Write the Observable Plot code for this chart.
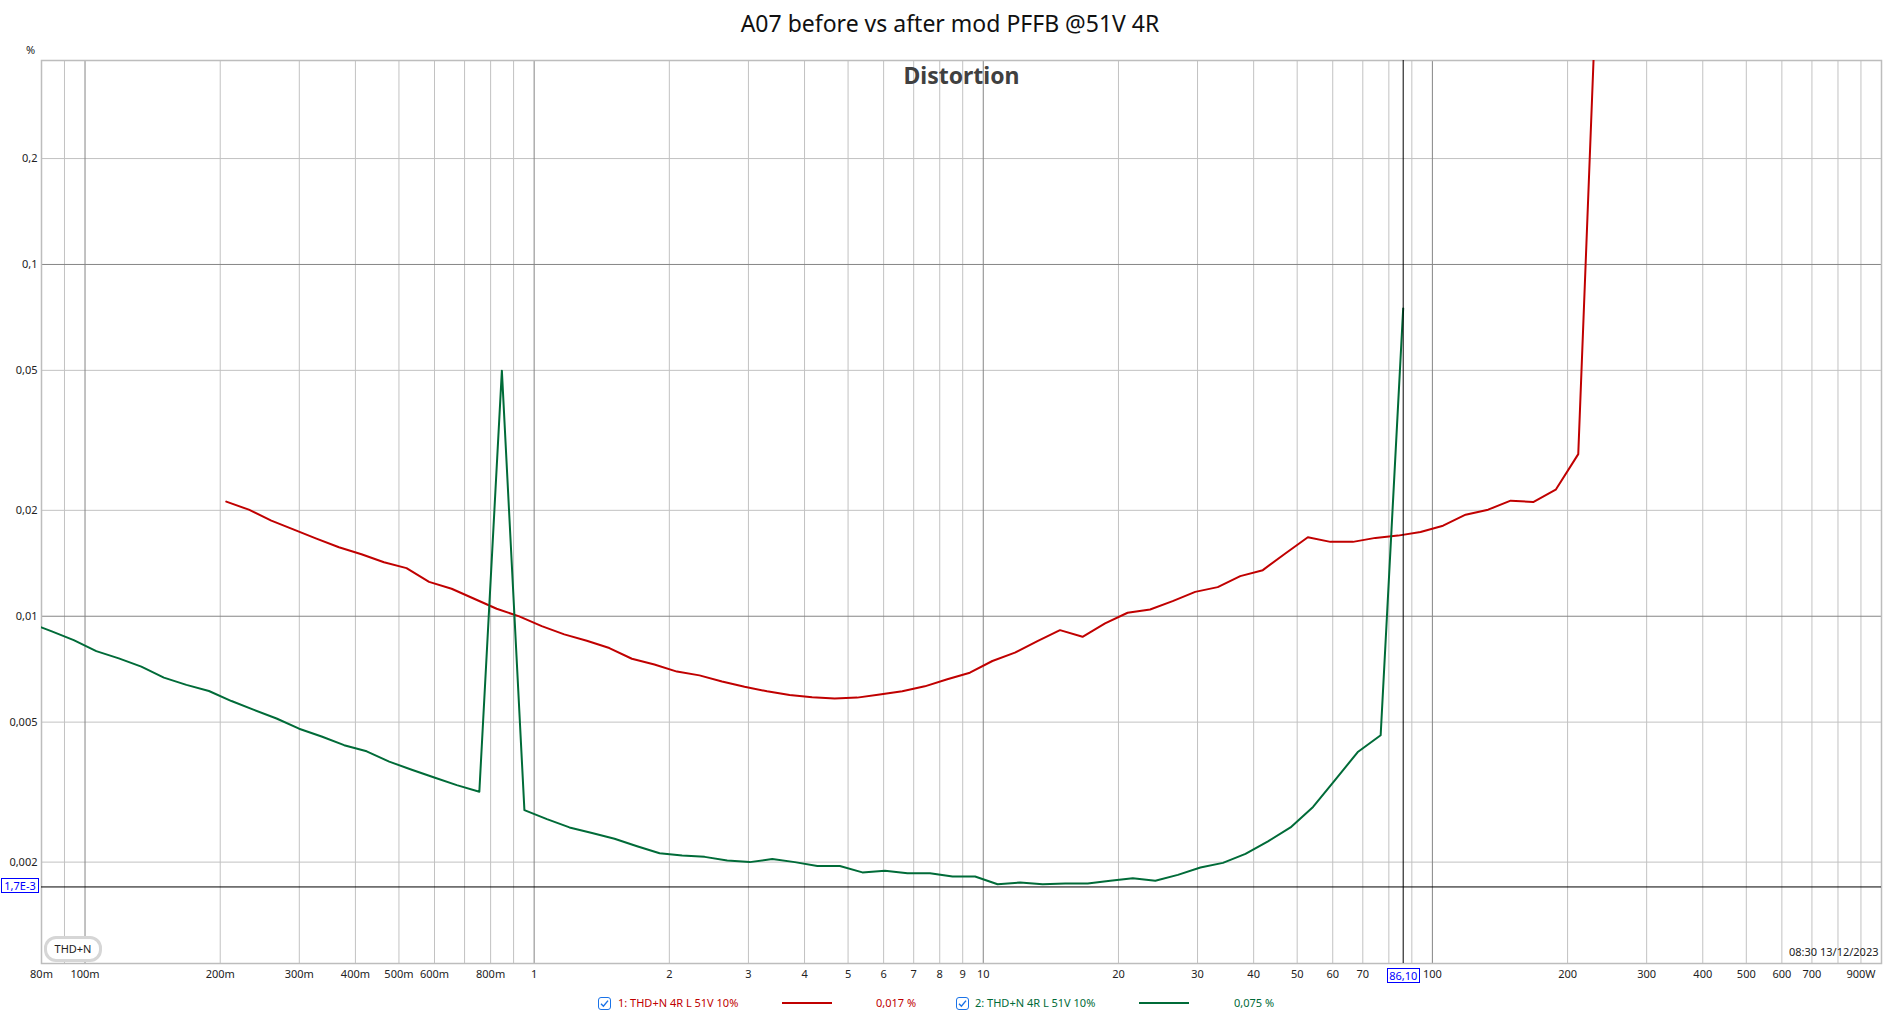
<!DOCTYPE html>
<html>
<head>
<meta charset="utf-8">
<script src="https://cdn.jsdelivr.net/npm/d3@7"></script>
<script src="https://cdn.jsdelivr.net/npm/@observablehq/plot@0.6"></script>
<style>
  html, body { margin: 0; padding: 0; background: #fff; }
  body { width: 1900px; height: 1016px; position: relative; overflow: hidden; font-family: "Noto Sans", "Open Sans", sans-serif; }
  #chart { position: absolute; left: 0; top: 0; }
  .abs { position: absolute; white-space: nowrap; }
  #title { top: 7px; left: 0; width: 1900px; text-align: center; font-size: 23px; color: #111; }
  #unit { left: 26px; top: 42px; font-size: 11px; color: #222; }
  .cbox { position: absolute; font-size: 11px; color: #0000ff; background: #fff; border: 1px solid #0000ff; line-height: 13px; padding: 0 1px; text-align: center; }
  #thdn { left: 44px; top: 936px; width: 52px; height: 20px; border: 3px solid #d6d6d6; border-radius: 12px; font-size: 11px; line-height: 20px; text-align: center; color: #222; background: #fff; }
  .leg { position: absolute; top: 995px; height: 16px; font-size: 11px; line-height: 16px; }
  .legline { position: absolute; top: 1002px; height: 2px; }
</style>
</head>
<body>
<div id="chart"></div>
<script>
// ---- data ----
const redPower = [0.2063,0.2316,0.2599,0.2918,0.3275,0.3676,0.4126,0.4631,0.5198,0.5835,0.6550,0.7352,0.8252,0.9263,1.0397,1.1670,1.3099,1.4703,1.6504,1.8525,2.0794,2.3340,2.6199,2.9407,3.3008,3.7050,4.1588,4.6680,5.2397,5.8814,6.6016,7.4100,8.3175,9.3361,10.479,11.762,13.203,14.820,16.635,18.672,20.958,23.525,26.406,29.640,33.270,37.344,41.917,47.050,52.813,59.281,66.540,74.688,83.835,94.101,105.63,118.56,133.08,149.38,167.67,188.21,211.26,237.13];
const redTHD = [0.02117,0.02009,0.01870,0.01763,0.01662,0.01571,0.01501,0.01424,0.01370,0.01252,0.01197,0.01121,0.01050,0.00999,0.00937,0.00888,0.00852,0.00812,0.00757,0.00729,0.00696,0.00679,0.00652,0.00630,0.00612,0.00597,0.00588,0.00584,0.00587,0.00599,0.00612,0.00632,0.00662,0.00691,0.00746,0.00788,0.00850,0.00913,0.00874,0.00954,0.01023,0.01045,0.01104,0.01173,0.01210,0.01300,0.01352,0.01508,0.01677,0.01627,0.01627,0.01670,0.01695,0.01736,0.01809,0.01944,0.02009,0.02131,0.02112,0.02289,0.02890,1.3];
const greenPower = [0.07491,0.08408,0.09438,0.10594,0.11891,0.13347,0.14982,0.16817,0.18876,0.21188,0.23782,0.26694,0.29964,0.33633,0.37751,0.42375,0.47564,0.53389,0.59927,0.67266,0.75503,0.8475,0.9513,1.0678,1.1986,1.3454,1.5101,1.6950,1.9026,2.1356,2.3971,2.6906,3.0201,3.3900,3.8052,4.2712,4.7942,5.3813,6.0402,6.7800,7.6103,8.5424,9.5884,10.763,12.080,13.560,15.221,17.085,19.177,21.525,24.161,27.120,30.441,34.169,38.354,43.050,48.322,54.240,60.882,68.338,76.707,86.10];
const greenTHD = [0.0096,0.00907,0.00855,0.00796,0.00759,0.00719,0.00669,0.00638,0.00613,0.00574,0.00542,0.00512,0.00479,0.00455,0.00430,0.00413,0.00386,0.00366,0.00348,0.00331,0.00317,0.0499,0.00281,0.00265,0.00251,0.00242,0.00233,0.00222,0.00212,0.00209,0.00207,0.00202,0.00200,0.00204,0.00200,0.00195,0.00195,0.00187,0.00189,0.00186,0.00186,0.00182,0.00182,0.00173,0.00175,0.00173,0.00174,0.00174,0.00177,0.00180,0.00177,0.00184,0.00193,0.00199,0.00211,0.00229,0.00251,0.00287,0.00344,0.00412,0.00459,0.075];

const xTicks = [0.08,0.1,0.2,0.3,0.4,0.5,0.6,0.8,1,2,3,4,5,6,7,8,9,10,20,30,40,50,60,70,100,200,300,400,500,600,700,900];
const xTickLabels = ["80m","100m","200m","300m","400m","500m","600m","800m","1","2","3","4","5","6","7","8","9","10","20","30","40","50","60","70","100","200","300","400","500","600","700","900W"];
const yTicks = [0.2,0.1,0.05,0.02,0.01,0.005,0.002];
const yTickLabels = ["0,2","0,1","0,05","0,02","0,01","0,005","0,002"];
const xGridMajor = [0.1,1,10,100];
const xGridMinor = [0.09,0.2,0.3,0.4,0.5,0.6,0.7,0.8,0.9,2,3,4,5,6,7,8,9,20,30,40,50,60,70,80,90,200,300,400,500,600,700,800,900];
const yGridMajor = [0.1,0.01];
const yGridMinor = [0.2,0.05,0.02,0.005,0.002];

const cursorX = 86.10;
const cursorY = 0.0017;
const seriesNames = ["1: THD+N 4R L 51V 10%","2: THD+N 4R L 51V 10%"];
const seriesReadouts = ["0,017 %","0,075 %"];
const colors = ["#c00000","#006b38"];

const red = redPower.map((x,i)=>({x, y: redTHD[i]}));
const green = greenPower.map((x,i)=>({x, y: greenTHD[i]}));
const xTickData = xTicks.map((v,i)=>({v, label: xTickLabels[i]}));
const yTickData = yTicks.map((v,i)=>({v, label: yTickLabels[i]}));

const W = 1900, H = 990;
const chart = Plot.plot({
  width: W, height: H,
  marginTop: 60, marginLeft: 41, marginRight: 19, marginBottom: H - 963,
  style: {fontFamily: '"Noto Sans", sans-serif', fontSize: "11px", color: "#222", background: "transparent"},
  x: {type: "log", domain: [0.08, 1000], axis: null},
  y: {type: "log", domain: [0.00103, 0.38], axis: null},
  marks: [
    Plot.ruleX(xGridMinor, {stroke: "#c2c2c2", strokeWidth: 1}),
    Plot.ruleY(yGridMinor, {stroke: "#c2c2c2", strokeWidth: 1}),
    Plot.ruleX(xGridMajor, {stroke: "#858585", strokeWidth: 1}),
    Plot.ruleY(yGridMajor, {stroke: "#858585", strokeWidth: 1}),
    Plot.frame({stroke: "#bdbdbd", strokeWidth: 1.5}),
    Plot.text(xTickData, {x: "v", text: "label", frameAnchor: "bottom", dy: 14, fontSize: 11, fill: "#222"}),
    Plot.text(yTickData, {y: "v", text: "label", frameAnchor: "left", dx: -4, textAnchor: "end", fontSize: 11, fill: "#222"}),
    Plot.text(["Distortion"], {frameAnchor: "top", dy: 7, fontSize: 23, fontWeight: "bold", fill: "#404040"}),
    Plot.text(["08:30 13/12/2023"], {frameAnchor: "bottom-right", dx: -3, dy: -8, fontSize: 11, fill: "#222"}),
    Plot.line(red, {x: "x", y: "y", stroke: colors[0], strokeWidth: 2, clip: true}),
    Plot.line(green, {x: "x", y: "y", stroke: colors[1], strokeWidth: 2, clip: true}),
    Plot.ruleX([cursorX], {stroke: "#000", strokeWidth: 1}),
    Plot.ruleY([cursorY], {stroke: "#000", strokeWidth: 1})
  ]
});
document.getElementById("chart").appendChild(chart);

const sx = chart.scale("x"), sy = chart.scale("y");
const body = document.body;
function add(html){ const t = document.createElement("div"); t.innerHTML = html; const el = t.firstElementChild; body.appendChild(el); return el; }

add(`<div class="abs" id="title">A07 before vs after mod PFFB @51V 4R</div>`);
add(`<div class="abs" id="unit">%</div>`);
add(`<div class="abs" id="thdn">THD+N</div>`);

const yc = sy.apply(cursorY);
const cy = add(`<div class="cbox">1,7E-3</div>`);
cy.style.left = "1px"; cy.style.top = (yc - 8) + "px"; cy.style.width = "34px";
const xc = sx.apply(cursorX);
const cx = add(`<div class="cbox">86,10</div>`);
cx.style.left = (xc - 16) + "px"; cx.style.top = "968px"; cx.style.width = "29px";

const check = () => `<svg width="13" height="13" style="position:absolute;left:0;top:1.5px"><rect x="0.5" y="0.5" width="12" height="12" rx="2.5" fill="#fff" stroke="#1a73e8"/><path d="M3 6.8 L5.4 9.3 L10 3.6" fill="none" stroke="#1a73e8" stroke-width="1.4"/></svg>`;
const legPos = [{cb:598, txt:618, line:782, val:876}, {cb:956, txt:975, line:1139, val:1234}];
legPos.forEach((p, i) => {
  add(`<div class="leg" style="left:${p.cb}px;width:14px">${check()}</div>`);
  add(`<div class="leg" style="left:${p.txt}px;color:${colors[i]}">${seriesNames[i]}</div>`);
  add(`<div class="legline" style="left:${p.line}px;width:50px;background:${colors[i]}"></div>`);
  add(`<div class="leg" style="left:${p.val}px;color:${colors[i]}">${seriesReadouts[i]}</div>`);
});
</script>
</body>
</html>
